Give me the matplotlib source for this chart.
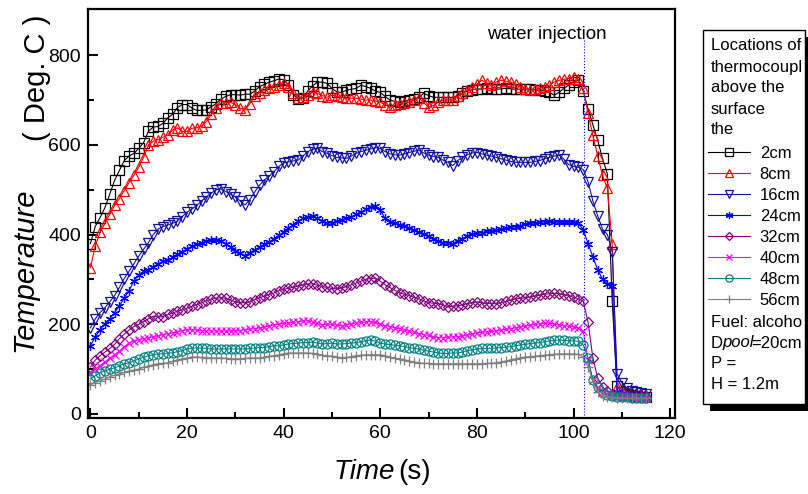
import numpy as np
import matplotlib
matplotlib.use("Agg")
from matplotlib import pyplot as plt
from matplotlib.patches import Rectangle

plt.rcParams['font.family'] = ['Liberation Sans', 'DejaVu Sans']

# time axis, one reading per second
time_s = list(range(0, 116))

t_2cm = [380, 418, 438, 460, 490, 521, 543, 565, 575, 581, 592, 605, 630, 640, 641, 648, 660, 668, 683, 690,
         690, 682, 677, 677, 678, 685, 692, 702, 708, 712, 712, 711, 713, 713, 720, 730, 735, 740, 743, 747,
         745, 733, 712, 702, 705, 720, 732, 740, 740, 737, 726, 718, 717, 722, 724, 726, 733, 730, 726, 720,
         717, 708, 700, 697, 695, 698, 700, 703, 706, 715, 710, 706, 706, 706, 706, 706, 710, 715, 720, 723,
         724, 725, 726, 725, 724, 725, 726, 725, 724, 724, 724, 724, 723, 722, 720, 717, 711, 717, 726, 733,
         740, 744, 720, 680, 645, 610, 570, 535, 252, 62, 50, 45, 42, 40, 38, 38]
t_8cm = [326, 375, 405, 425, 445, 465, 480, 498, 516, 532, 550, 572, 600, 608, 612, 617, 622, 633, 638, 630,
         630, 637, 638, 642, 652, 668, 683, 693, 694, 695, 690, 682, 678, 692, 710, 716, 722, 726, 729, 733,
         737, 730, 716, 705, 706, 711, 717, 715, 710, 706, 711, 708, 706, 704, 704, 704, 702, 700, 700, 698,
         695, 690, 684, 688, 692, 694, 695, 700, 704, 694, 684, 688, 695, 700, 700, 700, 708, 715, 722, 729,
         735, 744, 738, 733, 740, 744, 742, 740, 735, 729, 725, 722, 724, 726, 730, 733, 740, 744, 746, 748,
         751, 746, 726, 670, 621, 575, 532, 503, 380, 60, 55, 52, 48, 45, 43, 42]
t_16cm = [192, 212, 226, 237, 250, 264, 282, 302, 318, 335, 352, 367, 382, 400, 412, 418, 421, 425, 430, 440,
          450, 457, 465, 475, 484, 492, 500, 502, 496, 490, 484, 475, 466, 478, 495, 510, 522, 530, 540, 552,
          560, 562, 564, 566, 575, 585, 590, 592, 585, 581, 576, 572, 571, 570, 575, 581, 585, 588, 591, 594,
          592, 585, 580, 578, 577, 580, 583, 586, 588, 582, 577, 574, 572, 566, 561, 554, 565, 572, 578, 582,
          583, 580, 577, 575, 572, 569, 566, 563, 561, 561, 561, 561, 563, 565, 569, 572, 575, 577, 568, 556,
          552, 550, 545, 518, 475, 442, 412, 400, 362, 89, 70, 58, 52, 48, 46, 45]
t_24cm = [152, 172, 188, 201, 212, 226, 241, 259, 275, 297, 310, 318, 322, 328, 335, 340, 344, 349, 356, 362,
          368, 374, 378, 382, 385, 387, 387, 385, 380, 372, 364, 358, 353, 360, 366, 372, 378, 384, 390, 398,
          406, 414, 422, 430, 436, 440, 442, 436, 431, 426, 426, 430, 433, 436, 440, 445, 450, 456, 462, 464,
          454, 436, 428, 425, 422, 420, 414, 410, 406, 402, 396, 391, 386, 382, 381, 380, 386, 391, 397, 402,
          403, 404, 407, 409, 411, 413, 415, 416, 418, 420, 423, 425, 426, 427, 429, 431, 429, 427, 427, 427,
          427, 425, 411, 380, 350, 322, 300, 290, 286, 50, 45, 42, 40, 40, 39, 38]
t_32cm = [105, 120, 130, 138, 146, 155, 168, 178, 187, 195, 200, 206, 212, 218, 216, 217, 222, 225, 229, 232,
          236, 240, 244, 248, 252, 256, 258, 259, 258, 254, 250, 248, 248, 250, 255, 259, 263, 266, 270, 275,
          278, 280, 283, 285, 288, 290, 290, 287, 284, 282, 280, 279, 281, 284, 288, 292, 296, 300, 302, 303,
          296, 288, 282, 276, 270, 267, 264, 260, 257, 252, 248, 247, 246, 243, 239, 240, 241, 243, 246, 248,
          250, 248, 246, 246, 246, 248, 251, 254, 257, 258, 259, 261, 263, 265, 267, 268, 269, 268, 266, 264,
          260, 257, 252, 205, 125, 80, 60, 52, 45, 42, 40, 39, 38, 38, 37, 37]
t_40cm = [92, 100, 108, 116, 124, 132, 140, 150, 158, 163, 166, 168, 170, 172, 174, 177, 179, 181, 183, 186,
          188, 188, 187, 185, 185, 185, 185, 185, 185, 185, 186, 186, 188, 189, 190, 192, 194, 196, 199, 200,
          202, 203, 204, 206, 207, 208, 205, 202, 199, 200, 200, 198, 197, 199, 201, 203, 204, 205, 206, 204,
          200, 197, 195, 192, 190, 187, 184, 182, 179, 177, 175, 172, 170, 170, 171, 172, 172, 174, 176, 178,
          181, 182, 183, 184, 185, 187, 189, 190, 192, 194, 196, 198, 200, 201, 202, 203, 200, 198, 197, 196,
          194, 192, 185, 120, 75, 55, 48, 45, 42, 40, 39, 38, 38, 37, 37, 36]
t_48cm = [78, 85, 92, 96, 100, 103, 107, 112, 114, 118, 123, 126, 130, 132, 134, 134, 136, 136, 139, 141,
          145, 147, 147, 147, 146, 145, 145, 145, 145, 145, 145, 145, 145, 146, 147, 148, 148, 150, 152, 152,
          154, 156, 157, 158, 159, 159, 160, 158, 156, 157, 158, 156, 156, 157, 158, 159, 161, 163, 165, 162,
          158, 156, 155, 153, 152, 150, 148, 146, 145, 142, 140, 138, 136, 135, 135, 136, 136, 138, 141, 143,
          145, 146, 146, 147, 147, 148, 149, 150, 152, 154, 155, 157, 158, 159, 161, 163, 164, 165, 164, 163,
          163, 162, 154, 125, 75, 60, 46, 43, 40, 38, 37, 37, 36, 36, 36, 36]
t_56cm = [65, 70, 74, 78, 83, 86, 89, 93, 96, 98, 100, 104, 107, 110, 112, 113, 114, 117, 121, 123,
          125, 127, 127, 126, 125, 125, 125, 125, 124, 123, 123, 123, 124, 125, 125, 125, 127, 129, 130, 132,
          134, 136, 136, 136, 136, 136, 135, 133, 131, 130, 129, 127, 125, 126, 128, 130, 131, 132, 132, 132,
          132, 130, 127, 124, 123, 121, 118, 116, 114, 113, 113, 112, 112, 112, 112, 112, 112, 112, 112, 112,
          112, 112, 113, 113, 114, 116, 118, 121, 123, 125, 127, 128, 129, 130, 131, 132, 133, 134, 134, 134,
          134, 133, 127, 105, 72, 49, 40, 38, 37, 36, 36, 35, 35, 35, 35, 35]

labels = ["2cm", "8cm", "16cm", "24cm", "32cm", "40cm", "48cm", "56cm"]
series = [t_2cm, t_8cm, t_16cm, t_24cm, t_32cm, t_40cm, t_48cm, t_56cm]
colors = ["black", "red", "#10109a", "blue", "#800080", "magenta", "#008080", "gray"]
markers = ["s", "^", "v", (6, 2, 0), "D", "x", "o", "+"]
msizes = [6.5, 6.5, 6.5, 6.5, 5, 6, 6.5, 7]

injection_t = 102.2

W, H = 808, 494
fig = plt.figure(figsize=(W / 100, H / 100), dpi=100)
ax = fig.add_axes([88 / W, 1 - 418 / H, (675 - 88) / W, (418 - 9) / H])

handles = []
for i in range(len(series)):
    ln, = ax.plot(time_s, series[i], color=colors[i], marker=markers[i], markersize=msizes[i],
                  markerfacecolor="none", markeredgewidth=0.9, linewidth=0.8, label=labels[i])
    handles.append(ln)

ax.vlines(injection_t, -9, 835, colors="blue", linestyles=":", linewidth=0.8)
ax.text(94.5, 847, "water injection", fontsize=13.5, ha="center", va="center")

ax.set_xlim(-0.5, 121)
ax.set_ylim(-9, 903)
ax.set_xticks([0, 20, 40, 60, 80, 100, 120])
ax.set_xticks(np.arange(10, 120, 20), minor=True)
ax.set_yticks([0, 200, 400, 600, 800])
ax.set_yticks([100, 300, 500, 700], minor=True)
ax.tick_params(which="both", direction="in", top=False, right=False, labelsize=14, width=1.5)
ax.tick_params(which="major", length=7, pad=5)
ax.tick_params(which="minor", length=4)
for sp in ax.spines.values():
    sp.set_linewidth(1.6)

# axis titles
fig.text(24 / W, 1 - 270 / H, "Temperature", rotation=90, style="italic", fontsize=21,
         ha="center", va="center")
fig.text(37 / W, 1 - 78 / H, "( Deg. C )", rotation=90, fontsize=21, ha="center", va="center")
fig.text(364 / W, 1 - 472 / H, "Time", style="italic", fontsize=20, ha="center", va="center")
fig.text(415 / W, 1 - 472 / H, "(s)", fontsize=20, ha="center", va="center")

# legend box with shadow
shadow = Rectangle((710 / W, 1 - 411 / H), 120 / W, (411 - 37) / H, transform=fig.transFigure,
                   facecolor="black", edgecolor="none")
box = Rectangle((703 / W, 1 - 404 / H), (805 - 703) / W, (404 - 30) / H, transform=fig.transFigure,
                facecolor="white", edgecolor="black", linewidth=1.0)
fig.add_artist(shadow)
fig.add_artist(box)

fs = 12
head = ["Locations of", "thermocoupl", "above the", "surface", "the"]
rows_y = [46, 67.5, 88, 109, 130]
for s, y in zip(head, rows_y):
    fig.text(711 / W, 1 - y / H, s, fontsize=fs, va="center", ha="left")

foot_y = [322, 343, 364, 384]
fig.text(711 / W, 1 - foot_y[0] / H, "Fuel: alcoho", fontsize=fs, va="center")
fig.text(711 / W, 1 - foot_y[1] / H, "D", fontsize=fs, va="center")
fig.text(722 / W, 1 - foot_y[1] / H, "pool", fontsize=fs, va="center", style="italic")
fig.text(751 / W, 1 - foot_y[1] / H, "=20cm", fontsize=fs, va="center")
fig.text(711 / W, 1 - foot_y[2] / H, "P =", fontsize=fs, va="center")
fig.text(711 / W, 1 - foot_y[3] / H, "H = 1.2m", fontsize=fs, va="center")

leg = fig.legend(handles=handles, loc="upper left", bbox_to_anchor=(708 / W, 1 - 146 / H),
                 frameon=False, fontsize=fs, handlelength=2.5, handletextpad=0.6,
                 labelspacing=0.36, borderpad=0, borderaxespad=0, numpoints=1, markerscale=0.8)

fig.savefig("out.png", dpi=100)
